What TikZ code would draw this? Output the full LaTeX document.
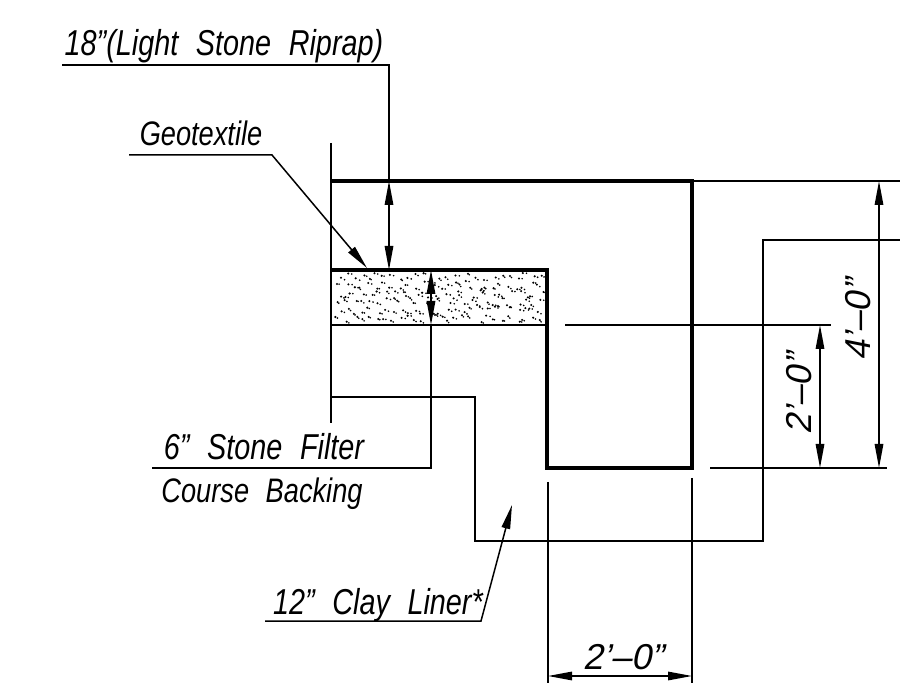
\documentclass[tikz,border=0pt]{standalone}
\usepackage{fontspec}
\setmainfont{Liberation Sans}[ItalicFeatures={FakeStretch=0.8},WordSpace={2.2}]
\newfontfamily\dimfont{Liberation Sans}[FakeSlant=0.2]
\usetikzlibrary{arrows.meta}
\tikzset{
  thinline/.style={line width=1.5pt,black},
  thickline/.style={line width=3.6pt,black,line join=miter},
  tips/.style={thinline,{Stealth[length=24pt,width=8.5pt,inset=0pt]}-{Stealth[length=24pt,width=8.5pt,inset=0pt]}},
  tipend/.style={thinline,-{Stealth[length=24pt,width=8.5pt,inset=0pt]}},
  lab/.style={inner sep=0pt,anchor=base,font=\fontsize{36}{36}\selectfont\itshape},
  labs/.style={inner sep=0pt,anchor=base,font=\fontsize{34}{34}\selectfont\itshape},
  dim/.style={inner sep=0pt,anchor=base,font=\fontsize{36}{36}\selectfont\dimfont}
}
\begin{document}
\begin{tikzpicture}[x=1pt,y=-1pt]
\useasboundingbox (0,0) rectangle (900,700);
\fill[white] (0,0) rectangle (900,700);
% stipple, jittered so that it covers the band evenly
\pgfmathsetseed{4217}
\foreach \c in {0,...,26}{
  \foreach \r in {0,...,5}{
    \pgfmathsetmacro{\px}{334+(\c+rnd)*7.8}
    \pgfmathsetmacro{\py}{273+(\r+rnd)*8.2}
    \fill[black] (\px,\py) circle (1.15pt);
    \pgfmathsetmacro{\qx}{min(\px+1+rnd*3,545)}
    \pgfmathsetmacro{\qy}{min(\py+rnd*2,323)}
    \fill[black] (\qx,\qy) circle (0.9pt);
  }
}
% named points
\coordinate (tl) at (331,181);
\coordinate (tr) at (692,181);
\coordinate (br) at (692,468);
\coordinate (bl) at (547,468);
\coordinate (in) at (547,270);
\coordinate (wl) at (331,270);
% section outline
\draw[thickline] (wl) -- (in) -- (bl) -- (br) -- (tr) -- (tl);
% thin lines
\draw[thinline] (331,143) -- (331,423);
\draw[thinline] (331,325) -- (547,325);
\draw[thinline] (565,325) -- (831,325);
\draw[thinline] (331,397) -- (475,397) -- (475,541) -- (763,541) -- (763,240) -- (900,240);
\draw[thinline] (tr) -- (900,181);
\draw[thinline] (710,468) -- (887,468);
\draw[thinline] (548,482) -- (548,683);
\draw[thinline] (692,478) -- (692,683);
% dimensions
\draw[tips] (548,676) -- (692,676);
\draw[tips] (820,325) -- (820,468);
\draw[tips] (879,181) -- (879,468);
\draw[tips] (389,181) -- (389,270);
\draw[tips] (431,270) -- (431,325);
% leaders
\draw[thinline] (62,65) -- (389,65) -- (389,181);
\draw[tipend] (129,155) -- (272,155) -- (367,268);
\draw[thinline] (152,468) -- (431,468) -- (431,325);
\draw[tipend] (265,621) -- (481,621) -- (512,505);
% labels
\node[lab] (riprap) at (224,56) {18”(Light Stone Riprap)};
\node[labs] (geo) at (201,146) {Geotextile};
\node[lab] (filter) at (264,460) {6” Stone Filter};
\node[labs] (backing) at (262,503) {Course Backing};
\node[lab] (clay) at (378,614) {12” Clay Liner*};
\node[dim] (dimb) at (623,669) {2’–0”};
\node[dim,rotate=90] (dimm) at (811,394) {2’–0”};
\node[dim,rotate=90] (dimr) at (870,320) {4’–0”};
\end{tikzpicture}
\end{document}
